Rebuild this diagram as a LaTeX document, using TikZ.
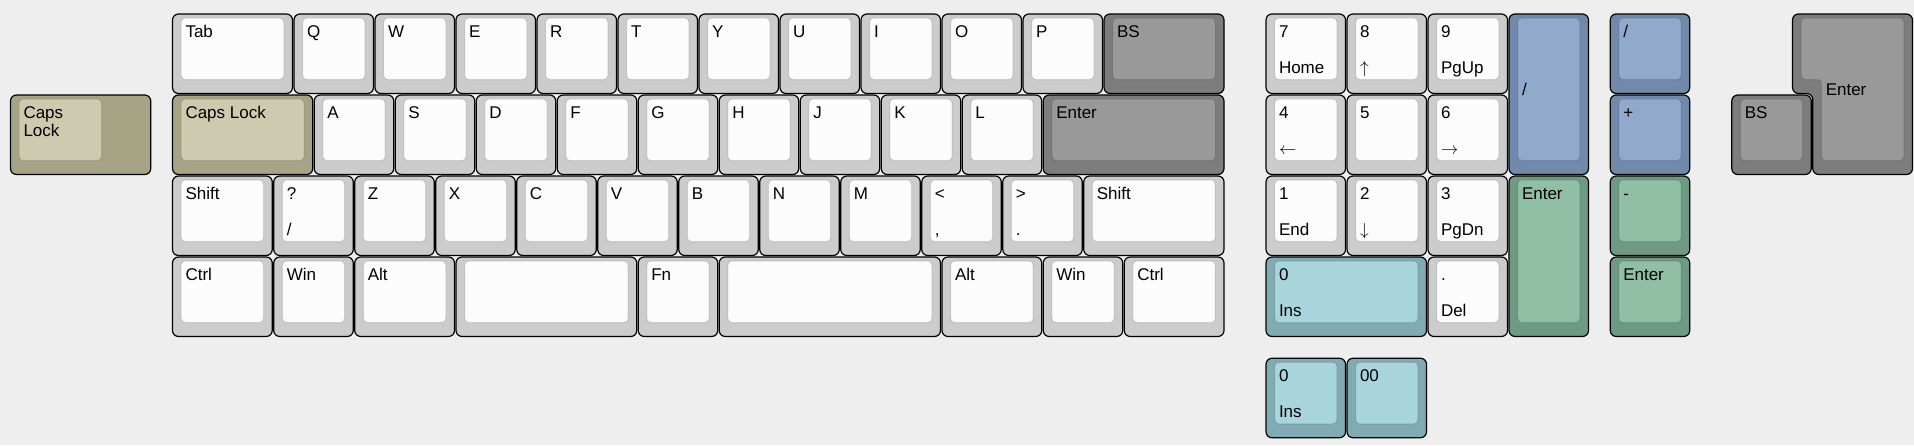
\documentclass[tikz,border=0pt]{standalone}
\usepackage{fontspec}
\setmainfont{Liberation Sans}
\definecolor{bgc}{HTML}{EEEEEE}
\definecolor{defO}{HTML}{CCCCCC}\definecolor{defI}{HTML}{FCFCFC}
\definecolor{gryO}{HTML}{7D7D7D}\definecolor{gryI}{HTML}{999999}
\definecolor{capO}{HTML}{A7A385}\definecolor{capI}{HTML}{CDCAB0}
\definecolor{bluO}{HTML}{7189AB}\definecolor{bluI}{HTML}{91A9CB}
\definecolor{grnO}{HTML}{6E9A83}\definecolor{grnI}{HTML}{90BFA6}
\definecolor{tealO}{HTML}{80ABB2}\definecolor{tealI}{HTML}{A8D4DB}
\newcount\kno
\tikzset{
  keyouter/.style={draw=black, line width=1.2pt, rounded corners=6pt},
  keyinner/.style={draw=black, draw opacity=0.12, line width=1pt, rounded corners=4pt},
  lbl/.style={anchor=base west, inner sep=0pt, font=\fontsize{17}{18}\selectfont, text=black},
}
% #1 x, #2 y, #3 w, #4 h, #5 colour base, #6 top label, #7 bottom label
\newcommand\kbkey[7]{%
  \global\advance\kno by 1
  \draw[keyouter, fill=#5O] ([xshift=0.5pt,yshift=-0.5pt]#1,#2) rectangle ([xshift=-1pt,yshift=1pt]{#1+#3},{#2+#4});
  \draw[keyinner, fill=#5I] ([xshift=9.2pt,yshift=-4.5pt]#1,#2) rectangle ([xshift=-9.7pt,yshift=15pt]{#1+#3},{#2+#4});
  \node[lbl] (k\the\kno t) at ([xshift=13.3pt,yshift=-23.5pt]#1,#2) {#6};
  \node[lbl] (k\the\kno b) at ([xshift=13.3pt,yshift=21.5pt]{#1},{#2+#4}) {#7};
}
% centre-left label, tall key
\newcommand\kbtall[5]{%
  \global\advance\kno by 1
  \draw[keyouter, fill=#4O] ([xshift=0.5pt,yshift=-0.5pt]#1,#2) rectangle ([xshift=-1pt,yshift=1pt]{#1+1},{#2+#3});
  \draw[keyinner, fill=#4I] ([xshift=9.2pt,yshift=-4.5pt]#1,#2) rectangle ([xshift=-9.7pt,yshift=15pt]{#1+1},{#2+#3});
  \node[lbl] (k\the\kno c) at ([xshift=13.3pt,yshift=-81.8pt]#1,#2) {#5};
}
\newcommand\arr[1]{$#1$}
\begin{document}
\begin{tikzpicture}[x=81pt, y=-81pt]
\path[fill=bgc] (0,0) ++(-10pt,13.5pt) rectangle ++(1914pt,-445pt);
\useasboundingbox (0,0) ++(-10pt,13.5pt) rectangle ++(1914pt,-445pt);
% stepped caps lock
\draw[keyouter, fill=capO] ([xshift=0.5pt,yshift=-0.5pt]0,1) rectangle ([xshift=-1pt,yshift=1pt]1.75,2);
\draw[keyinner, fill=capI] ([xshift=9.2pt,yshift=-4.5pt]0,1) rectangle ([xshift=-9.7pt,yshift=15pt]1.25,2);
\node[lbl] (capsA) at ([xshift=13.3pt,yshift=-23.5pt]0,1) {Caps};
\node[lbl] (capsB) at ([xshift=13.3pt,yshift=-41.5pt]0,1) {Lock};
% row 0
\kbkey{2}{0}{1.5}{1}{def}{Tab}{}
\kbkey{3.5}{0}{1}{1}{def}{Q}{}
\kbkey{4.5}{0}{1}{1}{def}{W}{}
\kbkey{5.5}{0}{1}{1}{def}{E}{}
\kbkey{6.5}{0}{1}{1}{def}{R}{}
\kbkey{7.5}{0}{1}{1}{def}{T}{}
\kbkey{8.5}{0}{1}{1}{def}{Y}{}
\kbkey{9.5}{0}{1}{1}{def}{U}{}
\kbkey{10.5}{0}{1}{1}{def}{I}{}
\kbkey{11.5}{0}{1}{1}{def}{O}{}
\kbkey{12.5}{0}{1}{1}{def}{P}{}
\kbkey{13.5}{0}{1.5}{1}{gry}{BS}{}
% row 1
\kbkey{2}{1}{1.75}{1}{cap}{Caps Lock}{}
\kbkey{3.75}{1}{1}{1}{def}{A}{}
\kbkey{4.75}{1}{1}{1}{def}{S}{}
\kbkey{5.75}{1}{1}{1}{def}{D}{}
\kbkey{6.75}{1}{1}{1}{def}{F}{}
\kbkey{7.75}{1}{1}{1}{def}{G}{}
\kbkey{8.75}{1}{1}{1}{def}{H}{}
\kbkey{9.75}{1}{1}{1}{def}{J}{}
\kbkey{10.75}{1}{1}{1}{def}{K}{}
\kbkey{11.75}{1}{1}{1}{def}{L}{}
\kbkey{12.75}{1}{2.25}{1}{gry}{Enter}{}
% row 2
\kbkey{2}{2}{1.25}{1}{def}{Shift}{}
\kbkey{3.25}{2}{1}{1}{def}{?}{/}
\kbkey{4.25}{2}{1}{1}{def}{Z}{}
\kbkey{5.25}{2}{1}{1}{def}{X}{}
\kbkey{6.25}{2}{1}{1}{def}{C}{}
\kbkey{7.25}{2}{1}{1}{def}{V}{}
\kbkey{8.25}{2}{1}{1}{def}{B}{}
\kbkey{9.25}{2}{1}{1}{def}{N}{}
\kbkey{10.25}{2}{1}{1}{def}{M}{}
\kbkey{11.25}{2}{1}{1}{def}{<}{,}
\kbkey{12.25}{2}{1}{1}{def}{>}{.}
\kbkey{13.25}{2}{1.75}{1}{def}{Shift}{}
% row 3
\kbkey{2}{3}{1.25}{1}{def}{Ctrl}{}
\kbkey{3.25}{3}{1}{1}{def}{Win}{}
\kbkey{4.25}{3}{1.25}{1}{def}{Alt}{}
\kbkey{5.5}{3}{2.25}{1}{def}{}{}
\kbkey{7.75}{3}{1}{1}{def}{Fn}{}
\kbkey{8.75}{3}{2.75}{1}{def}{}{}
\kbkey{11.5}{3}{1.25}{1}{def}{Alt}{}
\kbkey{12.75}{3}{1}{1}{def}{Win}{}
\kbkey{13.75}{3}{1.25}{1}{def}{Ctrl}{}
% keypad
\kbkey{15.5}{0}{1}{1}{def}{7}{Home}
\kbkey{16.5}{0}{1}{1}{def}{8}{\arr{\uparrow}}
\kbkey{17.5}{0}{1}{1}{def}{9}{PgUp}
\kbtall{18.5}{0}{2}{blu}{/}
\kbkey{15.5}{1}{1}{1}{def}{4}{\arr{\leftarrow}}
\kbkey{16.5}{1}{1}{1}{def}{5}{}
\kbkey{17.5}{1}{1}{1}{def}{6}{\arr{\rightarrow}}
\kbkey{15.5}{2}{1}{1}{def}{1}{End}
\kbkey{16.5}{2}{1}{1}{def}{2}{\arr{\downarrow}}
\kbkey{17.5}{2}{1}{1}{def}{3}{PgDn}
\kbkey{18.5}{2}{1}{2}{grn}{Enter}{}
\kbkey{15.5}{3}{2}{1}{teal}{0}{Ins}
\kbkey{17.5}{3}{1}{1}{def}{.}{Del}
% right column
\kbkey{19.75}{0}{1}{1}{blu}{/}{}
\kbkey{19.75}{1}{1}{1}{blu}{+}{}
\kbkey{19.75}{2}{1}{1}{grn}{-}{}
\kbkey{19.75}{3}{1}{1}{grn}{Enter}{}
% extra row
\kbkey{15.5}{4.25}{1}{1}{teal}{0}{Ins}
\kbkey{16.5}{4.25}{1}{1}{teal}{00}{}
% far right
\kbkey{21.25}{1}{1}{1}{gry}{BS}{}
\draw[keyouter, fill=gryO] ([xshift=0.5pt,yshift=-0.5pt]22,0) -- ([xshift=-1pt,yshift=-0.5pt]23.5,0)
  -- ([xshift=-1pt,yshift=1pt]23.5,2) -- ([xshift=0.5pt,yshift=1pt]22.25,2)
  -- ([xshift=0.5pt,yshift=1pt]22.25,1) -- ([xshift=0.5pt,yshift=1pt]22,1) -- cycle;
\draw[keyinner, fill=gryI] ([xshift=9.2pt,yshift=-4.5pt]22,0) -- ([xshift=-9.7pt,yshift=-4.5pt]23.5,0)
  -- ([xshift=-9.7pt,yshift=15pt]23.5,2) -- ([xshift=9.2pt,yshift=15pt]22.25,2)
  -- ([xshift=9.2pt,yshift=15pt]22.25,1) -- ([xshift=9.2pt,yshift=15pt]22,1) -- cycle;
\node[lbl] (isoenter) at ([xshift=13.3pt,yshift=-81.8pt]22.25,0) {Enter};
\end{tikzpicture}
\end{document}
